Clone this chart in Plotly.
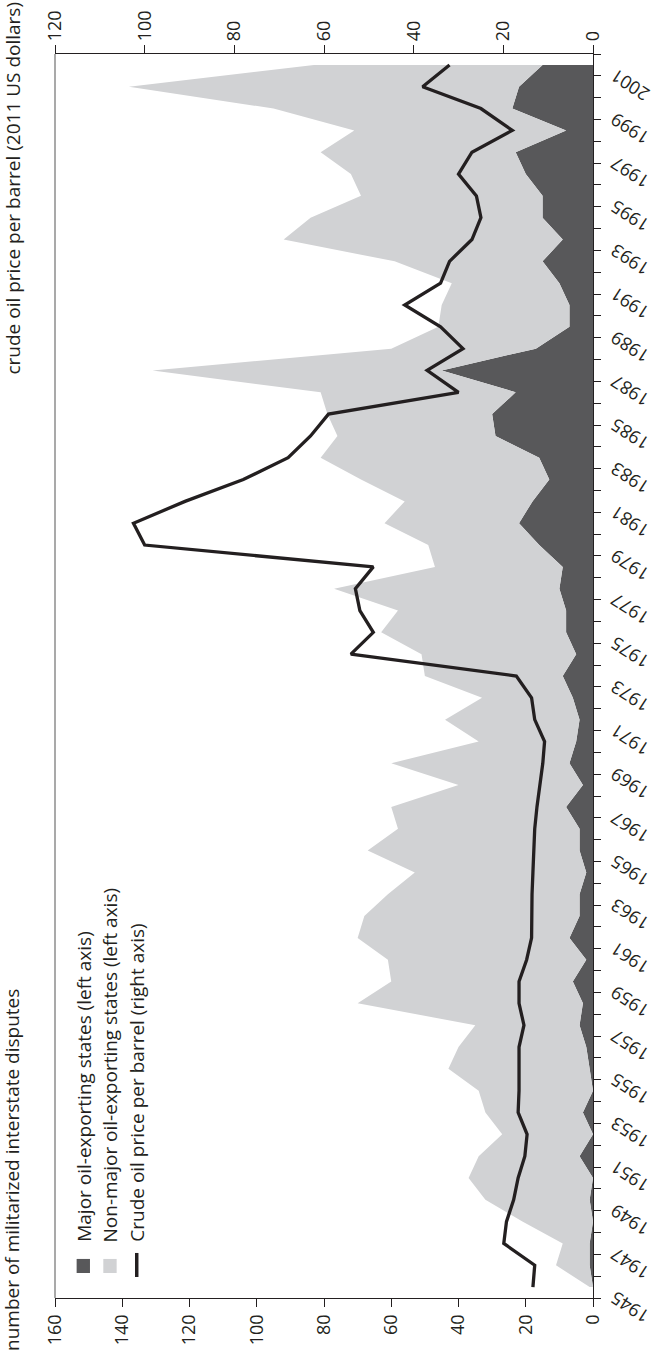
import plotly.graph_objects as go

# Militarized interstate disputes by initiator type, and real crude oil price
years = list(range(1945, 2002))

major_oil = [0, 1, 1, 0, 1, 0, 4, 0, 3, 0,
             1, 2, 4, 3, 6, 2, 7, 4, 4, 2,
             4, 4, 8, 3, 7, 5, 4, 6, 9, 5,
             8, 8, 10, 9, 16, 22, 18, 13, 16, 29,
             30, 23, 45, 17, 7, 7, 10, 15, 9, 15,
             15, 20, 23, 8, 24, 22, 15]

non_major_oil = [1, 10, 8, 21, 31, 37, 30, 27, 29, 34,
                 42, 38, 31, 67, 54, 59, 63, 64, 57, 51,
                 63, 54, 52, 37, 53, 29, 40, 27, 41, 46,
                 55, 50, 67, 38, 33, 40, 38, 56, 65, 47,
                 49, 58, 86, 43, 39, 38, 32, 44, 83, 69,
                 54, 52, 58, 63, 71, 116, 68]

oil_price = [13.4, 13.0, 19.9, 19.3, 17.7, 16.7, 15.2, 14.7, 16.7, 16.5,
             16.5, 16.5, 15.4, 16.5, 16.5, 14.8, 13.7, 13.7, 13.6, 13.4,
             13.2, 13.0, 12.5, 11.8, 11.2, 10.8, 13.0, 13.7, 17.1, 54,
             49, 52, 53, 49, 100, 102.5, 91, 78, 68, 63,
             59, 30, 37, 29, 34, 42, 34, 32, 27, 25,
             26, 30, 27, 18, 25, 38, 32]

dispute_ticks = list(range(0, 161, 20))
price_ticks = list(range(0, 121, 20))
year_labels = [y for y in years if y % 2 == 1]

INK = "#231f20"
DARK = "#58585a"
LIGHT = "#d1d2d4"
FONT = "Open Sans"
FS = 19
TICK_FS = 18

fig = go.Figure()

fig.add_trace(go.Scatter(
    x=major_oil, y=years, stackgroup="disputes", orientation="h",
    mode="lines", line=dict(width=0, color=DARK), fillcolor=DARK,
    name="Major oil-exporting states (left axis)", hoverinfo="skip",
    xaxis="x", yaxis="y"))
fig.add_trace(go.Scatter(
    x=non_major_oil, y=years, stackgroup="disputes", orientation="h",
    mode="lines", line=dict(width=0, color=LIGHT), fillcolor=LIGHT,
    name="Non-major oil-exporting states (left axis)", hoverinfo="skip",
    xaxis="x", yaxis="y"))
fig.add_trace(go.Scatter(
    x=oil_price, y=years, mode="lines",
    line=dict(width=3.3, color=INK),
    name="Crude oil price per barrel (right axis)", hoverinfo="skip",
    xaxis="x2", yaxis="y2"))

year_range = [years[0] - 0.5, years[-1] + 0.5]
boundaries = [y - 0.5 for y in years] + [years[-1] + 0.5]

axis_common = dict(showgrid=False, zeroline=False, showline=True,
                   linecolor=INK, linewidth=1.3, tickcolor=INK,
                   tickwidth=1.3, automargin=False,
                   tickfont=dict(family=FONT, size=TICK_FS, color=INK))

fig.update_layout(
    width=655, height=1354,
    margin=dict(l=55, r=62, t=54, b=56),
    paper_bgcolor="white", plot_bgcolor="white",
    showlegend=False,
    font=dict(family=FONT, size=FS, color=INK),
    xaxis=dict(range=[160, 0], tickvals=dispute_ticks, ticks="outside",
               ticklen=8, tickangle=-90, side="bottom", **axis_common),
    xaxis2=dict(range=[120, 0], tickvals=price_ticks, ticks="outside",
                ticklen=8, tickangle=-90, side="top", overlaying="x",
                anchor="y", **axis_common),
    yaxis=dict(range=year_range, tickvals=boundaries, ticks="outside",
               ticklen=7, showticklabels=False, side="right", **axis_common),
    yaxis2=dict(range=year_range, tickvals=year_labels,
                ticktext=[str(y) for y in year_labels], ticks="",
                tickangle=-147, side="right", overlaying="y", anchor="x",
                showgrid=False, zeroline=False, showline=False,
                automargin=False,
                ticklabelstandoff=52, ticklabelshift=36,
                tickfont=dict(family=FONT, size=TICK_FS, color=INK)),
)

# left frame edge
fig.add_shape(type="line", xref="paper", yref="paper", x0=0, x1=0, y0=0, y1=1,
              line=dict(color="#8c8c8c", width=1.5))

# axis titles, rotated with the chart
fig.add_annotation(text="number of militarized interstate disputes",
                   xref="paper", yref="paper", x=-0.0799, y=-0.0434,
                   xanchor="center", yanchor="bottom", textangle=-90,
                   borderpad=0, showarrow=False,
                   font=dict(family=FONT, size=FS, color=INK))
fig.add_annotation(text="crude oil price per barrel (2011 US dollars)",
                   xref="paper", yref="paper", x=-0.0799, y=1.0426,
                   xanchor="center", yanchor="top", textangle=-90,
                   borderpad=0, showarrow=False,
                   font=dict(family=FONT, size=FS, color=INK))

# legend keys and labels
legend_items = [
    ("Major oil-exporting states (left axis)", DARK, "box", 0.0526),
    ("Non-major oil-exporting states (left axis)", LIGHT, "box", 0.1022),
    ("Crude oil price per barrel (right axis)", INK, "line", 0.1519),
]
for label, color, kind, xc in legend_items:
    if kind == "box":
        fig.add_shape(type="rect", xref="paper", yref="paper",
                      x0=xc - 0.0124, x1=xc + 0.0124, y0=0.0201, y1=0.0314,
                      line=dict(width=0), fillcolor=color)
    else:
        fig.add_shape(type="line", xref="paper", yref="paper",
                      x0=xc, x1=xc, y0=0.0169, y1=0.0362,
                      line=dict(width=3.5, color=color))
    fig.add_annotation(text=label, xref="paper", yref="paper", x=xc, y=0.0442,
                       xanchor="center", yanchor="bottom", textangle=-90,
                       borderpad=0, showarrow=False,
                       font=dict(family=FONT, size=FS, color=INK))

fig.write_html("out.html")
